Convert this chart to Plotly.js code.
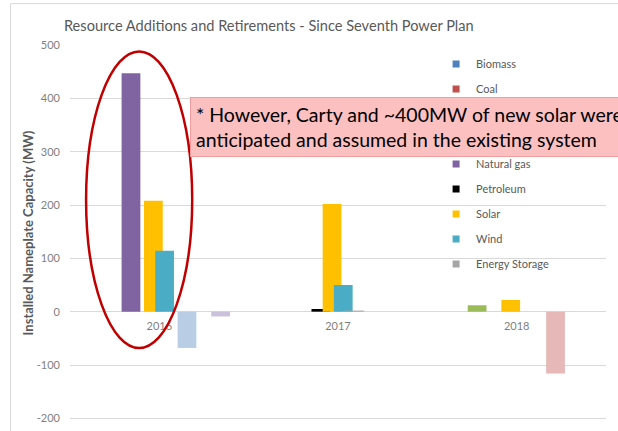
<!DOCTYPE html>
<html>
<head>
<meta charset="utf-8">
<script src="https://cdn.plot.ly/plotly-3.0.1.min.js"></script>
<style>
  body { margin: 0; background: #ffffff; }
  #myPlot { width: 618px; height: 431px; }
</style>
</head>
<body>
<div id="myPlot"></div>
<script>
// Chart data (MW)
const categories = ['2016', '2017', '2018'];

// additions by resource
const biomass = [0, 0, 0];
const coal = [0, 0, 0];
const hydro = [0, 0, 0];
const other = [0, 0, 12];
const naturalGas = [447, 0, 0];
const petroleum = [0, 5, 0];
const solar = [208, 202, 22];
const wind = [114, 50, 0];
const energyStorage = [0, 2, 0];

// retirements
const biomassRet = [-68, 0, 0];
const coalRet = [0, 0, -116];
const hydroRet = [0, 0, 0];
const naturalGasRet = [-9, 0, 0];

// y tick labels as on the slide (plain hyphen)
const yTicks = [-200, -100, 0, 100, 200, 300, 400, 500];
const yTickText = ['-200', '-100', '0', '100', '200', '300', '400', '500'];

// series in Excel order (clustered with overlap)
const series = [
    { name: 'Biomass', y: biomass, color: '#4F81BD', legend: true },
    { name: 'Coal', y: coal, color: '#C0504D', legend: true },
    { name: 'Hydro', y: hydro, color: '#9BBB59', legend: true },
    { name: 'Other', y: other, color: '#9BBB59', legend: true },
    { name: 'Natural gas', y: naturalGas, color: '#8064A2', legend: true },
    { name: 'Petroleum', y: petroleum, color: '#000000', legend: true },
    { name: 'Solar', y: solar, color: '#FFC000', legend: true },
    { name: 'Wind', y: wind, color: '#4BACC6', legend: true },
    { name: 'Energy Storage', y: energyStorage, color: '#A5A5A5', legend: true },
    { name: 'Biomass retired', y: biomassRet, color: '#B9CDE5', legend: false },
    { name: 'Coal retired', y: coalRet, color: '#E6B9B8', legend: false },
    { name: 'Hydro retired', y: hydroRet, color: '#D7E4BD', legend: false },
    { name: 'Natural gas retired', y: naturalGasRet, color: '#CCC1DA', legend: false }
];

const barWidth = 0.105;
const firstOffset = -0.462;
const step = 0.0627;

const bars = series.map((s, i) => ({
    type: 'bar',
    name: s.name,
    x: categories,
    y: s.y,
    width: barWidth,
    offset: firstOffset + i * step,
    marker: { color: s.color },
    showlegend: false
}));

// small square legend keys like the Excel legend
const legendKeys = series.filter(s => s.legend).map(s => ({
    type: 'scatter',
    mode: 'markers',
    name: s.name,
    x: [null],
    y: [null],
    marker: { symbol: 'square', size: 7, color: s.color },
    legendgroup: s.name
}));

const grey = '#595959';

const layout = {
    width: 618,
    height: 431,
    margin: { l: 70, r: 12, t: 45, b: 10 },
    paper_bgcolor: '#ffffff',
    plot_bgcolor: '#ffffff',
    font: { family: 'Lato, sans-serif', color: grey },
    barmode: 'overlay',
    title: {
        text: 'Resource Additions and Retirements - Since Seventh Power Plan',
        font: { size: 14.6, color: grey },
        x: 0.435,
        xanchor: 'center',
        y: 0.94,
        yanchor: 'middle'
    },
    xaxis: {
        type: 'category',
        anchor: 'free',
        position: 205 / 705,
        showgrid: false,
        showline: false,
        tickfont: { size: 11, color: '#7F7F7F' },
        ticklabelstandoff: 6
    },
    yaxis: {
        range: [-205, 500],
        tickvals: yTicks,
        ticktext: yTickText,
        gridcolor: '#D9D9D9',
        zerolinecolor: '#D9D9D9',
        showline: false,
        tickfont: { size: 11, color: '#7F7F7F' },
        ticklabelstandoff: 9,
        title: {
            text: '<b>Installed Nameplate Capacity (MW)</b>',
            font: { size: 13, color: grey },
            standoff: 0
        }
    },
    legend: {
        x: 0.683,
        xanchor: 'left',
        y: 0.988,
        yanchor: 'top',
        font: { size: 11, color: grey },
        traceorder: 'grouped',
        tracegroupgap: 6,
        bgcolor: 'rgba(0,0,0,0)'
    },
    shapes: [
        // chart frame
        {
            type: 'rect', xref: 'paper', yref: 'paper',
            x0: -0.111, x1: 1.2, y0: -0.2, y1: 1.11,
            line: { color: '#D9D9D9', width: 1 }
        },
        // red ellipse around 2016
        {
            type: 'circle', xref: 'paper', yref: 'paper', layer: 'above',
            x0: 0.030, x1: 0.228, y0: 0.194, y1: 0.983,
            line: { color: '#C00000', width: 2.5 }
        }
    ],
    annotations: [
        {
            xref: 'paper', yref: 'paper',
            x: 0.224, xanchor: 'left',
            y: 0.783, yanchor: 'middle',
            align: 'left',
            showarrow: false,
            text: '* However, Carty and ~400MW of new solar were<br>anticipated and assumed in the existing system',
            font: { size: 19.5, color: '#000000' },
            bgcolor: '#FCC0C0',
            bordercolor: '#F19C9C',
            borderwidth: 1,
            borderpad: 5
        }
    ]
};

Plotly.newPlot('myPlot', bars.concat(legendKeys), layout, { displayModeBar: false, staticPlot: true });
</script>
</body>
</html>
